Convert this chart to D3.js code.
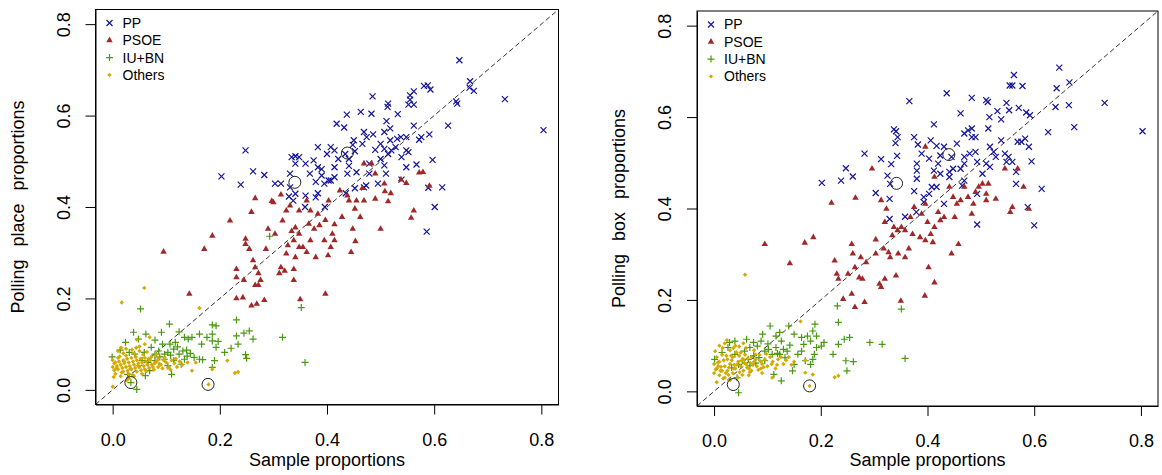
<!DOCTYPE html>
<html>
<head>
<meta charset="utf-8">
<script src="https://cdn.jsdelivr.net/npm/d3@7"></script>
<style>
  body { margin: 0; background: #fff; }
  text { font-family: "Liberation Sans", Arial, sans-serif; }
</style>
</head>
<body>
<div id="chart"></div>
<script>
// values, [sample proportion, polling proportion]
const ticks = [0.0, 0.2, 0.4, 0.6, 0.8];
const tickLabels = ["0.0", "0.2", "0.4", "0.6", "0.8"];
const parties = ["PP", "PSOE", "IU+BN", "Others"];

const ppPlace = [[0.647,0.721],[0.667,0.675],[0.666,0.661],[0.674,0.654],[0.732,0.636],[0.804,0.568],[0.641,0.631],[0.643,0.626],[0.626,0.578],[0.581,0.665],[0.588,0.666],[0.593,0.657],[0.562,0.653],[0.555,0.644],[0.555,0.635],[0.552,0.624],[0.562,0.624],[0.485,0.642],[0.514,0.626],[0.513,0.619],[0.463,0.608],[0.483,0.604],[0.437,0.602],[0.532,0.603],[0.418,0.582],[0.432,0.574],[0.511,0.588],[0.518,0.572],[0.562,0.578],[0.469,0.564],[0.486,0.559],[0.474,0.553],[0.572,0.547],[0.591,0.559],[0.576,0.553],[0.531,0.549],[0.538,0.553],[0.548,0.553],[0.507,0.564],[0.518,0.546],[0.45,0.546],[0.448,0.536],[0.466,0.538],[0.5,0.538],[0.49,0.525],[0.507,0.527],[0.52,0.524],[0.528,0.531],[0.548,0.524],[0.514,0.516],[0.539,0.509],[0.552,0.52],[0.407,0.531],[0.383,0.531],[0.414,0.524],[0.4,0.516],[0.421,0.505],[0.434,0.516],[0.441,0.505],[0.248,0.524],[0.203,0.467],[0.239,0.449],[0.262,0.478],[0.283,0.47],[0.303,0.451],[0.314,0.451],[0.331,0.473],[0.334,0.509],[0.341,0.511],[0.348,0.509],[0.341,0.495],[0.331,0.443],[0.329,0.423],[0.337,0.414],[0.341,0.429],[0.36,0.495],[0.375,0.502],[0.383,0.487],[0.39,0.483],[0.368,0.473],[0.39,0.469],[0.414,0.465],[0.403,0.458],[0.379,0.455],[0.395,0.451],[0.36,0.425],[0.383,0.43],[0.379,0.421],[0.359,0.4],[0.396,0.4],[0.407,0.458],[0.438,0.473],[0.455,0.476],[0.441,0.49],[0.452,0.522],[0.414,0.487],[0.452,0.441],[0.473,0.447],[0.469,0.443],[0.495,0.451],[0.51,0.473],[0.507,0.491],[0.479,0.495],[0.5,0.505],[0.435,0.43],[0.539,0.46],[0.548,0.487],[0.567,0.493],[0.597,0.503],[0.589,0.442],[0.615,0.443],[0.601,0.4],[0.586,0.346],[0.479,0.473]];

const psoePlace = [[0.579,0.476],[0.572,0.475],[0.591,0.446],[0.562,0.392],[0.557,0.376],[0.548,0.452],[0.538,0.46],[0.519,0.43],[0.508,0.434],[0.514,0.412],[0.5,0.352],[0.49,0.418],[0.483,0.495],[0.49,0.473],[0.507,0.451],[0.469,0.495],[0.469,0.414],[0.455,0.414],[0.441,0.414],[0.452,0.396],[0.462,0.378],[0.448,0.352],[0.453,0.325],[0.445,0.301],[0.428,0.378],[0.424,0.436],[0.414,0.362],[0.41,0.341],[0.414,0.327],[0.407,0.312],[0.402,0.294],[0.395,0.327],[0.397,0.371],[0.383,0.385],[0.386,0.36],[0.376,0.352],[0.366,0.363],[0.369,0.327],[0.362,0.301],[0.379,0.29],[0.355,0.312],[0.348,0.341],[0.341,0.355],[0.334,0.347],[0.338,0.327],[0.327,0.316],[0.324,0.298],[0.341,0.29],[0.348,0.312],[0.317,0.37],[0.324,0.392],[0.331,0.403],[0.348,0.392],[0.362,0.414],[0.369,0.392],[0.338,0.264],[0.321,0.26],[0.314,0.268],[0.338,0.24],[0.311,0.255],[0.303,0.341],[0.29,0.352],[0.3,0.41],[0.286,0.308],[0.266,0.419],[0.259,0.389],[0.248,0.33],[0.248,0.319],[0.255,0.308],[0.262,0.283],[0.266,0.268],[0.272,0.255],[0.276,0.24],[0.266,0.229],[0.272,0.229],[0.231,0.264],[0.231,0.246],[0.245,0.24],[0.231,0.2],[0.243,0.202],[0.259,0.184],[0.269,0.188],[0.283,0.196],[0.219,0.37],[0.186,0.337],[0.171,0.308],[0.095,0.302],[0.143,0.21],[0.35,0.198],[0.397,0.21],[0.314,0.427],[0.297,0.413],[0.403,0.414],[0.438,0.425],[0.466,0.441]];

const iuPlace = [[0.293,0.336],[0.052,0.177],[0.352,0.18],[0.359,0.06],[0.317,0.115],[0.231,0.153],[0.186,0.142],[0.193,0.14],[0.186,0.122],[0.197,0.106],[0.186,0.107],[0.176,0.115],[0.162,0.122],[0.166,0.1],[0.193,0.093],[0.209,0.082],[0.221,0.091],[0.234,0.1],[0.231,0.118],[0.245,0.124],[0.255,0.129],[0.262,0.111],[0.248,0.077],[0.25,0.069],[0.19,0.064],[0.168,0.066],[0.186,0.049],[0.106,0.144],[0.124,0.127],[0.091,0.126],[0.062,0.122],[0.039,0.126],[0.048,0.111],[0.024,0.104],[0.079,0.109],[0.093,0.1],[0.107,0.1],[0.117,0.104],[0.134,0.115],[0.141,0.111],[0.148,0.115],[0.014,0.087],[0.031,0.082],[0.041,0.078],[0.059,0.082],[0.072,0.093],[0.079,0.078],[0.086,0.085],[0.097,0.078],[0.103,0.082],[0.114,0.089],[0.124,0.078],[0.131,0.085],[0.138,0.087],[0.145,0.08],[0.152,0.071],[0.162,0.067],[0.134,0.067],[0.114,0.064],[0.097,0.067],[0.079,0.064],[0.066,0.06],[0.055,0.064],[0.103,0.053],[0.128,0.056],[0.069,0.042],[0.11,0.034],[-0.001,0.072],[0.045,0.001],[0.034,0.016],[0.061,0.031],[0.028,0.034],[0.088,0.072],[0.121,0.094],[0.139,0.074],[0.108,0.076]];

const othersPlace = [[0.059,0.223],[0.017,0.191],[0.162,0.179],[0.179,0.012],[0.186,0.045],[0.228,0.037],[0.234,0.039],[0.0,0.007],[0.148,0.042],[0.103,0.049],[0.214,0.064],[0.155,0.06],[0.069,0.115],[0.0,0.05],[0.005,0.06],[0.01,0.045],[0.01,0.07],[0.015,0.055],[0.02,0.04],[0.02,0.065],[0.025,0.05],[0.025,0.075],[0.03,0.035],[0.03,0.06],[0.035,0.045],[0.035,0.07],[0.04,0.055],[0.04,0.08],[0.045,0.04],[0.045,0.065],[0.05,0.05],[0.05,0.085],[0.055,0.06],[0.06,0.045],[0.06,0.07],[0.065,0.055],[0.07,0.065],[0.075,0.05],[0.08,0.06],[0.085,0.07],[0.09,0.055],[0.1,0.06],[0.11,0.065],[0.12,0.05],[0.13,0.055],[0.005,0.035],[0.0,0.065],[0.015,0.03],[0.02,0.08],[0.03,0.025],[0.04,0.03],[0.05,0.095],[0.055,0.035],[0.008,0.052],[0.012,0.062],[0.018,0.048],[0.022,0.058],[0.028,0.042],[0.032,0.052],[0.038,0.062],[0.042,0.048],[0.048,0.058],[0.052,0.068],[0.058,0.052],[0.062,0.062],[0.068,0.048],[0.072,0.072],[0.078,0.058],[0.085,0.05],[0.095,0.065],[0.105,0.05],[0.115,0.058],[0.14,0.06],[0.003,0.043],[0.06,0.1],[0.045,0.11],[0.025,0.09],[0.01,0.085],[0.003,0.058],[0.007,0.047],[0.013,0.073],[0.017,0.038],[0.021,0.062],[0.027,0.068],[0.033,0.047],[0.037,0.033],[0.043,0.072],[0.047,0.053],[0.053,0.043],[0.057,0.077],[0.063,0.041],[0.067,0.068],[0.073,0.055],[0.077,0.044],[0.083,0.064],[0.087,0.057],[0.093,0.047],[0.097,0.071],[0.108,0.044],[0.118,0.068],[0.125,0.062],[0.016,0.092],[0.036,0.088],[0.026,0.021],[0.002,0.028],[0.044,0.092],[0.064,0.083],[0.082,0.078]];

const ppBox = [[0.647,0.708],[0.562,0.692],[0.554,0.669],[0.559,0.669],[0.578,0.668],[0.642,0.663],[0.666,0.676],[0.665,0.626],[0.64,0.622],[0.732,0.631],[0.803,0.569],[0.675,0.578],[0.626,0.567],[0.614,0.443],[0.6,0.363],[0.588,0.403],[0.595,0.503],[0.585,0.61],[0.592,0.604],[0.571,0.62],[0.553,0.615],[0.548,0.631],[0.531,0.613],[0.516,0.6],[0.538,0.595],[0.514,0.575],[0.51,0.637],[0.513,0.633],[0.483,0.642],[0.462,0.608],[0.436,0.652],[0.366,0.635],[0.412,0.584],[0.337,0.573],[0.341,0.569],[0.344,0.556],[0.34,0.543],[0.343,0.515],[0.332,0.497],[0.313,0.508],[0.282,0.52],[0.247,0.488],[0.26,0.47],[0.238,0.461],[0.202,0.456],[0.303,0.434],[0.325,0.472],[0.33,0.454],[0.329,0.421],[0.329,0.377],[0.358,0.382],[0.375,0.556],[0.382,0.54],[0.38,0.498],[0.38,0.483],[0.38,0.465],[0.389,0.52],[0.403,0.509],[0.375,0.438],[0.393,0.425],[0.379,0.392],[0.393,0.414],[0.406,0.549],[0.417,0.537],[0.408,0.447],[0.412,0.483],[0.424,0.476],[0.42,0.498],[0.431,0.535],[0.424,0.516],[0.403,0.432],[0.417,0.447],[0.448,0.487],[0.441,0.48],[0.462,0.487],[0.469,0.498],[0.469,0.513],[0.469,0.564],[0.476,0.571],[0.483,0.575],[0.479,0.52],[0.483,0.556],[0.49,0.524],[0.493,0.502],[0.503,0.476],[0.455,0.542],[0.469,0.461],[0.465,0.45],[0.49,0.556],[0.517,0.535],[0.524,0.524],[0.51,0.498],[0.517,0.491],[0.493,0.432],[0.493,0.365],[0.528,0.513],[0.538,0.549],[0.545,0.52],[0.552,0.513],[0.548,0.502],[0.559,0.502],[0.566,0.48],[0.566,0.454],[0.569,0.546],[0.576,0.546],[0.583,0.553],[0.59,0.535],[0.441,0.469],[0.431,0.41],[0.445,0.513]];

const psoeBox = [[0.396,0.535],[0.296,0.487],[0.22,0.412],[0.265,0.423],[0.17,0.325],[0.186,0.337],[0.095,0.322],[0.142,0.28],[0.313,0.418],[0.323,0.399],[0.32,0.37],[0.303,0.332],[0.318,0.312],[0.327,0.304],[0.334,0.341],[0.337,0.359],[0.344,0.352],[0.351,0.359],[0.358,0.352],[0.33,0.293],[0.345,0.301],[0.358,0.293],[0.365,0.312],[0.372,0.344],[0.368,0.381],[0.375,0.403],[0.389,0.388],[0.396,0.41],[0.4,0.37],[0.406,0.344],[0.41,0.326],[0.396,0.33],[0.386,0.337],[0.413,0.359],[0.424,0.374],[0.42,0.392],[0.431,0.381],[0.441,0.447],[0.448,0.425],[0.455,0.41],[0.462,0.418],[0.445,0.301],[0.458,0.322],[0.451,0.381],[0.469,0.447],[0.476,0.425],[0.49,0.436],[0.483,0.388],[0.486,0.41],[0.496,0.447],[0.503,0.454],[0.51,0.432],[0.51,0.418],[0.514,0.454],[0.528,0.421],[0.545,0.487],[0.555,0.392],[0.559,0.403],[0.569,0.487],[0.58,0.447],[0.59,0.399],[0.413,0.469],[0.226,0.286],[0.23,0.257],[0.233,0.246],[0.251,0.257],[0.258,0.322],[0.26,0.301],[0.275,0.293],[0.272,0.249],[0.278,0.246],[0.242,0.202],[0.258,0.213],[0.264,0.184],[0.282,0.195],[0.285,0.282],[0.264,0.271],[0.31,0.235],[0.32,0.246],[0.341,0.253],[0.313,0.228],[0.35,0.198],[0.395,0.209],[0.402,0.271],[0.413,0.238],[0.303,0.301]];

const iuBox = [[0.231,0.187],[0.351,0.18],[0.233,0.151],[0.189,0.147],[0.185,0.132],[0.192,0.121],[0.181,0.11],[0.192,0.096],[0.188,0.081],[0.185,0.07],[0.181,0.059],[0.168,0.103],[0.164,0.088],[0.15,0.125],[0.147,0.045],[0.13,0.092],[0.126,0.11],[0.123,0.081],[0.133,0.074],[0.14,0.143],[0.123,0.129],[0.105,0.143],[0.091,0.125],[0.088,0.11],[0.081,0.099],[0.102,0.092],[0.109,0.081],[0.095,0.067],[0.084,0.074],[0.074,0.078],[0.064,0.07],[0.067,0.056],[0.057,0.088],[0.061,0.114],[0.039,0.11],[0.029,0.107],[0.039,0.081],[0.015,0.085],[0.001,0.07],[0.033,0.052],[0.046,-0.003],[0.043,0.03],[0.112,0.037],[0.126,0.023],[0.116,0.121],[0.15,0.059],[0.223,0.081],[0.233,0.103],[0.244,0.114],[0.254,0.118],[0.247,0.067],[0.261,0.065],[0.249,0.045],[0.292,0.107],[0.315,0.103],[0.358,0.072],[0.206,0.107],[0.201,0.099],[0.074,0.107],[0.067,0.096],[0.095,0.088],[0.116,0.096],[0.137,0.088],[0.157,0.081],[0.171,0.067],[0.046,0.059],[0.053,0.067],[0.026,0.096],[0.164,0.118],[0.175,0.121],[0.078,0.062],[0.101,0.104],[0.119,0.083],[0.142,0.101]];

const othersBox = [[0.058,0.255],[0.162,0.153],[0.179,0.012],[0.226,0.031],[0.233,0.034],[0.171,0.041],[0.185,0.037],[0.109,0.03],[0.171,0.068],[0.0,0.04],[0.0,0.06],[0.005,0.05],[0.005,0.075],[0.01,0.035],[0.01,0.065],[0.015,0.045],[0.015,0.08],[0.02,0.055],[0.02,0.03],[0.025,0.07],[0.025,0.045],[0.03,0.06],[0.03,0.09],[0.035,0.04],[0.035,0.075],[0.04,0.05],[0.04,0.1],[0.045,0.065],[0.045,0.03],[0.05,0.055],[0.05,0.085],[0.055,0.045],[0.055,0.07],[0.06,0.06],[0.06,0.095],[0.065,0.05],[0.07,0.075],[0.07,0.045],[0.075,0.065],[0.08,0.055],[0.085,0.08],[0.09,0.06],[0.095,0.07],[0.1,0.055],[0.105,0.075],[0.11,0.065],[0.12,0.07],[0.13,0.06],[0.14,0.075],[0.15,0.065],[0.008,0.055],[0.012,0.045],[0.018,0.068],[0.022,0.04],[0.028,0.052],[0.032,0.078],[0.038,0.058],[0.042,0.085],[0.048,0.042],[0.052,0.068],[0.058,0.08],[0.062,0.052],[0.068,0.062],[0.078,0.07],[0.088,0.05],[0.01,0.1],[0.02,0.105],[0.005,0.02],[0.03,0.025],[0.065,0.035],[0.09,0.04],[0.115,0.05],[0.075,0.09],[0.055,0.105],[0.003,0.048],[0.007,0.063],[0.013,0.054],[0.017,0.028],[0.023,0.078],[0.027,0.036],[0.033,0.068],[0.037,0.05],[0.043,0.058],[0.047,0.078],[0.053,0.036],[0.057,0.062],[0.063,0.072],[0.067,0.042],[0.073,0.058],[0.077,0.081],[0.083,0.047],[0.087,0.066],[0.093,0.053],[0.098,0.082],[0.108,0.06],[0.118,0.058],[0.125,0.075],[0.135,0.068],[0.145,0.058],[0.016,0.095],[0.036,0.095],[0.002,0.088],[0.024,0.112],[0.047,0.098]];

const circlesPlace = [[0.034,0.016],[0.178,0.012],[0.34,0.454],[0.438,0.518]];
const circlesBox = [[0.036,0.015],[0.179,0.012],[0.342,0.455],[0.44,0.518]];

const width = 1162;
const height = 475;
const domain = [-0.032, 0.832];
const colors = ["#14149a", "#a02828", "#4a9a10", "#d4aa00"];

const svg = d3.select("#chart")
    .append("svg")
    .attr("width", width)
    .attr("height", height);

drawPanel({left: 95.5, right: 558.5, top: 9.5, bottom: 404.5, titleOff: 72},
    [ppPlace, psoePlace, iuPlace, othersPlace], circlesPlace, "Polling place proportions");
drawPanel({left: 697, right: 1158, top: 11, bottom: 406, titleOff: 72.5},
    [ppBox, psoeBox, iuBox, othersBox], circlesBox, "Polling box proportions");

function drawMark(sel, k) {
    if (k === 0) {
        sel.append("path").attr("d", "M-3,-3L3,3M-3,3L3,-3")
            .attr("stroke", colors[0]).attr("stroke-width", 1.2).attr("fill", "none");
    } else if (k === 1) {
        sel.append("path").attr("d", d3.symbol(d3.symbolTriangle, 18)())
            .attr("fill", colors[1]);
    } else if (k === 2) {
        sel.append("path").attr("d", "M-3.5,0H3.5M0,-3.5V3.5")
            .attr("stroke", colors[2]).attr("stroke-width", 1.2).attr("fill", "none");
    } else {
        sel.append("path").attr("d", "M0,-2.2L2.2,0L0,2.2L-2.2,0Z")
            .attr("fill", colors[3]);
    }
}

function drawPanel(box, series, circles, yLabel) {
    const x = d3.scaleLinear().domain(domain).range([box.left, box.right]);
    const y = d3.scaleLinear().domain(domain).range([box.bottom, box.top]);
    const g = svg.append("g");

    // reference line y = x
    g.append("line")
        .attr("x1", x(domain[0])).attr("y1", y(domain[0]))
        .attr("x2", x(domain[1])).attr("y2", y(domain[1]))
        .attr("stroke", "#333").attr("stroke-dasharray", "5,3");

    series.forEach((pts, k) => {
        g.append("g").selectAll("g")
            .data(pts)
            .enter()
            .append("g")
            .attr("transform", d => "translate(" + x(d[0]) + "," + y(d[1]) + ")")
            .each(function() { drawMark(d3.select(this), k); });
    });

    g.append("g").selectAll("circle")
        .data(circles)
        .enter()
        .append("circle")
        .attr("cx", d => x(d[0]))
        .attr("cy", d => y(d[1]))
        .attr("r", 6)
        .attr("fill", "none")
        .attr("stroke", "#222")
        .attr("stroke-width", 1);

    // axes
    const xAxis = g.append("g")
        .attr("transform", "translate(0," + box.bottom + ")")
        .call(d3.axisBottom(x).tickValues(ticks).tickFormat((d, i) => tickLabels[i]).tickSize(10).tickSizeOuter(0));
    xAxis.selectAll("text").attr("y", 41).attr("dy", 0)
        .style("font-size", "18px").attr("fill", "#000");

    const yAxis = g.append("g")
        .attr("transform", "translate(" + box.left + ",0)")
        .call(d3.axisLeft(y).tickValues(ticks).tickFormat((d, i) => tickLabels[i]).tickSize(10).tickSizeOuter(0));
    yAxis.selectAll("text")
        .attr("x", 0).attr("dy", 0)
        .attr("text-anchor", "middle")
        .attr("transform", "translate(-26,0) rotate(-90)")
        .style("font-size", "18px").attr("fill", "#000");
    svg.selectAll(".domain").attr("stroke", "#000");
    svg.selectAll(".tick line").attr("stroke", "#000");

    g.append("rect")
        .attr("x", box.left).attr("y", box.top)
        .attr("width", box.right - box.left).attr("height", box.bottom - box.top)
        .attr("fill", "none").attr("stroke", "#000");

    g.append("text")
        .attr("x", (box.left + box.right) / 2)
        .attr("y", 466)
        .attr("text-anchor", "middle")
        .style("font-size", "18px")
        .text("Sample proportions");

    g.append("text")
        .attr("transform", "translate(" + (box.left - box.titleOff) + "," + ((box.top + box.bottom) / 2) + ") rotate(-90)")
        .attr("text-anchor", "middle")
        .style("font-size", "18px")
        .style("word-spacing", "8px")
        .text(yLabel);

    // legend
    const legend = g.append("g")
        .attr("transform", "translate(" + (box.left + 14) + "," + (box.top + 13.5) + ")");
    parties.forEach((p, k) => {
        const row = legend.append("g").attr("transform", "translate(0," + (k * 17.3) + ")");
        drawMark(row, k);
        row.append("text")
            .attr("x", 13)
            .attr("dy", "0.35em")
            .style("font-size", "14px")
            .text(p);
    });
}
</script>
</body>
</html>
